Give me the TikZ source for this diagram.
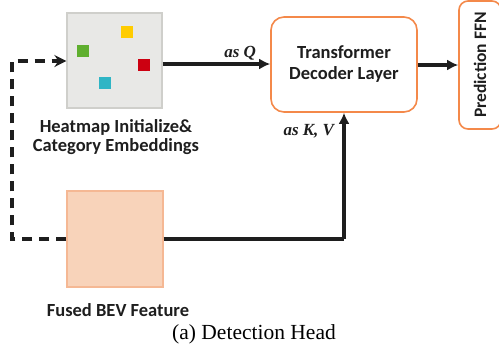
\documentclass[tikz,border=0pt]{standalone}
\usepackage{fontspec}
\setmainfont{Liberation Serif}
\newfontfamily\carlitofont{Carlito}
\usetikzlibrary{arrows.meta}
\definecolor{hmfill}{HTML}{E8E8E6}
\definecolor{hmdraw}{HTML}{CFCFCB}
\definecolor{orng}{HTML}{F4894A}
\definecolor{bevfill}{HTML}{F8D3BA}
\definecolor{bevdraw}{HTML}{F5B894}
\definecolor{sqy}{HTML}{FFCC00}
\definecolor{sqg}{HTML}{5FAF2F}
\definecolor{sqr}{HTML}{CC0011}
\definecolor{sqc}{HTML}{2FB5C5}
\definecolor{ln}{HTML}{1E1E1E}
\tikzset{
  sq/.style={minimum size=12pt,inner sep=0pt,draw=none},
  lbl/.style={font=\carlitofont\bfseries\fontsize{18.5}{21}\selectfont,text=ln,align=center},
  conn/.style={line width=3.2pt,draw=ln,-{Latex[length=11pt,width=11pt]}},
  dconn/.style={line width=3.2pt,draw=ln,dash pattern=on 10pt off 7pt},
  it/.style={font=\bfseries\itshape\fontsize{17}{20}\selectfont,text=ln},
}
\begin{document}
\begin{tikzpicture}[x=1pt,y=-1pt]
\useasboundingbox (0,0) rectangle (499,349);
% heatmap box
\node[draw=hmdraw,fill=hmfill,line width=1.2pt,minimum width=95pt,minimum height=95pt,inner sep=0pt] (hm) at (114.5,60.5) {};
\node[sq,fill=sqy] (y) at (127,32) {};
\node[sq,fill=sqg] (g) at (83,51) {};
\node[sq,fill=sqr] (r) at (144,65) {};
\node[sq,fill=sqc] (c) at (105,83) {};
\node[lbl] (hml) at (116,137) {Heatmap Initialize\&\\[-2pt]Category Embeddings};
% BEV
\node[draw=bevdraw,fill=bevfill,line width=1.2pt,minimum width=96pt,minimum height=96pt,inner sep=0pt] (bev) at (115,239) {};
\node[lbl] (bevl) at (118,310) {Fused BEV Feature};
% transformer
\node[draw=orng,line width=1.6pt,rounded corners=13pt,minimum width=146pt,minimum height=95pt,lbl] (tr) at (344,64.5) {Transformer\\[0pt]Decoder Layer};
% prediction FFN
\node[draw=orng,line width=1.6pt,rounded corners=9pt,minimum width=128pt,minimum height=42pt,lbl,rotate=90,font=\carlitofont\bfseries\fontsize{17.5}{20}\selectfont] (ffn) at (480,65) {Prediction FFN};
% connectors
\draw[conn] (hm.east |- 0,64) -- (tr.west |- 0,64) node[pos=0.72,above=-1pt,it] (q) {as \textit{Q}};
\draw[conn] (tr.east |- 0,65) -- (ffn.north |- 0,65);
\coordinate (kv) at (344,239);
\draw[line width=3.2pt,draw=ln] (bev.east |- 0,239) -- (kv);
\draw[conn] (kv) -- (tr.south) node[pos=0.85,left=5pt,it] (kvl) {as K, V};
\coordinate (d1) at (12,239);
\coordinate (d2) at (12,61);
\draw[dconn] (bev.west |- 0,239) -- (d1) -- (d2) -- (hm.west |- 0,61);
\draw[line width=3.2pt,draw=ln,-{Stealth[length=12pt,width=12pt,inset=4pt]}] (55,61) -- (hm.west |- 0,61);
\node[font=\fontsize{21.5}{24}\selectfont] (cap) at (254,334) {(a) Detection Head};
\end{tikzpicture}
\end{document}
